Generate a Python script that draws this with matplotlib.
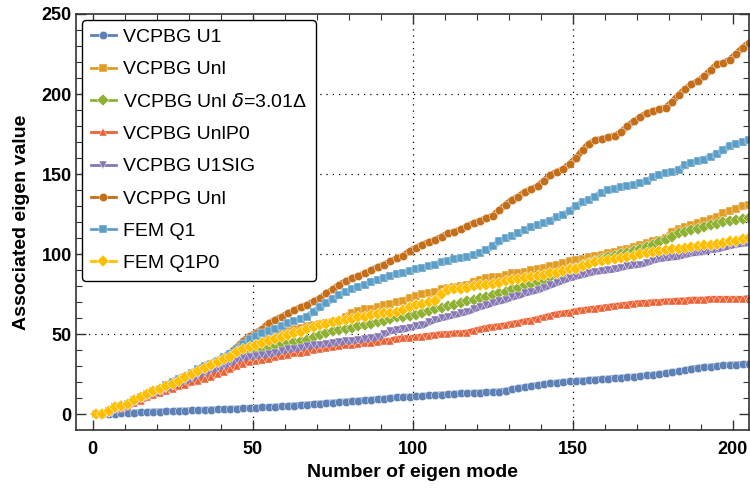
import matplotlib
matplotlib.use('Agg')
import matplotlib.pyplot as plt
from matplotlib.ticker import MultipleLocator

plt.rcParams['font.family'] = ['Liberation Sans', 'DejaVu Sans']

# eigen mode numbers (every second mode)
modes = list(range(1, 206, 2))

u1 = [0, 0.1, 0.3, 0.5, 0.7, 0.9, 1.1, 1.2, 1.4, 1.6,
      1.7, 1.9, 2.0, 2.2, 2.3, 2.5, 2.6, 2.8, 2.9, 3.1,
      3.2, 3.4, 3.5, 3.7, 3.9, 4.1, 4.3, 4.5, 4.7, 5.0,
      5.2, 5.5, 5.8, 6.1, 6.4, 6.7, 7.0, 7.3, 7.6, 7.9,
      8.2, 8.5, 8.8, 9.1, 9.4, 9.8, 10.2, 10.5, 10.8, 11.0,
      11.2, 11.5, 11.8, 12.0, 12.3, 12.5, 12.8, 13.0, 13.2, 13.4,
      13.6, 13.8, 14.0, 14.2, 14.8, 15.6, 16.3, 17.0, 17.6, 18.2,
      18.8, 19.3, 19.8, 20.2, 20.5, 20.8, 21.1, 21.4, 21.7, 22.0,
      22.3, 22.6, 22.9, 23.2, 23.5, 23.9, 24.3, 24.7, 25.1, 25.6,
      26.2, 26.8, 27.5, 28.5, 29.0, 29.4, 29.8, 30.2, 30.6, 30.9,
      31.1, 31.3, 31.5]

unl = [0, 0, 2, 4.5, 5, 6.5, 8.5, 10.5, 12.5, 14,
       15.5, 17.5, 19, 21, 23, 24.5, 26.5, 28.5, 30, 32,
       33.5, 35.5, 38, 40, 41.5, 44, 45.5, 47.5, 49.5, 51,
       52, 53, 54, 55, 56, 56.5, 57, 57.5, 58, 61,
       63.5, 64.5, 65.5, 66, 67, 68, 69, 70, 71, 72.5,
       74, 75, 75.5, 76.5, 78, 79, 79.5, 80, 81, 82.5,
       84, 85, 85.5, 86, 87, 88, 88.5, 89, 90, 91,
       91.5, 92.5, 93.5, 94.5, 95.5, 96.5, 97, 98, 99, 99.5,
       100.5, 101.5, 102.5, 103.5, 104.5, 105.5, 107, 108, 109, 110,
       114, 116, 117, 118, 119.5, 120.5, 122, 123.5, 125.5, 127,
       128.5, 130, 131]

unl_delta = [0, 0, 2, 4.5, 5, 6.5, 8.5, 10.5, 12, 14,
             15.5, 17, 19, 20.5, 22.5, 24, 26, 27.5, 29.5, 31,
             32.5, 34.5, 36, 37, 38, 39, 40.5, 42, 43, 44,
             44.5, 45, 46, 46.5, 48, 49.5, 51, 52, 52.5, 53.5,
             54, 55, 55.5, 56.5, 57.5, 58.5, 59.5, 60.5, 61, 61.5,
             62, 63, 64.5, 65.5, 66.5, 67.5, 68.5, 69.5, 70.5, 71.5,
             72.5, 73.5, 74.5, 75.5, 76.5, 78, 79, 80.5, 81.5, 82.5,
             84, 85.5, 87, 88.5, 90.5, 91.5, 93, 94.5, 96, 97,
             98, 99, 100, 101, 102, 103.5, 104.5, 106, 107.5, 109,
             111, 113, 114, 115, 116, 117, 118, 119, 120, 121,
             121.5, 122, 122.5]

unl_p0 = [0, 0, 1.5, 3.5, 4, 5, 7, 8.5, 10.5, 12,
          13, 14.5, 16, 17.5, 18.5, 20, 21, 22, 23.5, 25,
          26.5, 28, 30, 31.5, 32.5, 33, 34, 34.5, 35.5, 36.5,
          37, 38, 38.5, 39, 40, 41, 41.5, 42, 42.5, 43,
          43.5, 44, 44.5, 44.5, 45, 45.5, 46, 47, 47.5, 47.5,
          48, 48.5, 49, 49.5, 50, 50, 50.5, 50.5, 51, 52,
          53, 54, 54.5, 55, 55.5, 56.5, 57, 58, 58.5, 59.5,
          60.5, 61.5, 62.5, 63, 63.5, 64.5, 65, 65.5, 66, 66.5,
          67, 67.5, 68, 68.5, 69, 69.5, 69.5, 70, 70, 70.5,
          70.5, 71, 71, 71.5, 71.5, 71.5, 72, 72, 72, 72,
          72, 72, 72.5]

u1sig = [0, 0, 2, 4.5, 5, 6, 8, 10, 11.5, 13,
         14.5, 16, 17.5, 19.5, 21, 22.5, 24.5, 26, 27.5, 29,
         30.5, 32, 34, 35.5, 36, 36.5, 37, 37.5, 38.5, 39.5,
         40.5, 41, 41.5, 42.5, 43, 43.5, 44, 44.5, 45, 45.5,
         46, 46.5, 47, 47.5, 48, 50, 52, 52.5, 53, 54,
         55, 55.5, 57.5, 59, 60, 61, 62, 63, 64, 65.5,
         67, 68, 69.5, 70.5, 71.5, 73, 74, 75.5, 76.5, 77.5,
         79, 80.5, 82, 83.5, 85, 86, 87, 88, 89, 89.5,
         90, 90.5, 91.5, 92.5, 93, 93.5, 94.5, 96, 97, 97.5,
         98, 98.5, 99.5, 100.5, 101, 101.5, 102.5, 103, 104, 105,
         106, 106.5, 107]

vcppg_unl = [0, 0, 2, 4.5, 5, 6.5, 9, 10.5, 12.5, 14.5,
             16, 18, 20.5, 22.5, 24, 26, 28.5, 30.5, 32, 34,
             36, 38.5, 42, 46, 49, 51, 53.5, 57, 59, 61,
             63, 65, 67, 68.5, 70.5, 72.5, 75.5, 78, 81, 83,
             85, 86.5, 88, 90, 92, 93.5, 95.5, 97.5, 99, 102,
             104, 106, 107.5, 109, 111, 113, 114, 115.5, 117.5, 119.5,
             121, 122.5, 124, 127.5, 131, 134, 136, 139, 140.5, 142.5,
             146, 149.5, 151.5, 153, 156.5, 160, 165, 169, 171, 172,
             173, 174, 176, 180, 183, 185.5, 188, 189.5, 190.5, 191.5,
             195, 199.5, 203, 206, 208, 211, 215, 218.5, 219.5, 221.5,
             225, 229, 232]

fem_q1 = [0, 0, 2, 4.5, 5, 6.5, 9, 10.5, 12.5, 14.5,
          16, 18, 20, 22, 23.5, 25.5, 28, 30, 31.5, 33.5,
          35.5, 37.5, 40.5, 44, 47, 49, 50.5, 52, 53, 55,
          57, 58.5, 59.5, 61, 64, 67, 69.5, 72, 74.5, 76.5,
          78, 79.5, 81, 82.5, 84, 85, 86.5, 87.5, 88.5, 89.5,
          90.5, 91.5, 92.5, 93.5, 95, 96, 97, 97.5, 98.5, 99.5,
          101, 102.5, 105, 108, 110, 111.5, 113, 115, 117, 118,
          119.5, 121, 123, 124.5, 127, 130, 132.5, 134, 136, 138.5,
          140, 141, 142, 142.5, 143.5, 144.5, 145.5, 148, 149.5, 150.5,
          151.5, 152.5, 155.5, 157, 158, 159, 161, 162.5, 165, 167.5,
          169, 170, 171]

fem_q1p0 = [0, 0, 2, 4.5, 5, 6.5, 9, 10.5, 12.5, 14.5,
            15.5, 17.5, 19, 21, 23, 25, 27, 29, 31, 32.5,
            34.5, 36, 39, 41, 42, 43, 44.5, 46, 47, 48.5,
            49.5, 50.5, 51.5, 53, 54.5, 55.5, 56.5, 57.5, 58, 59,
            59.5, 60.5, 61, 62, 62.5, 63, 63.5, 64, 65, 67,
            68, 69, 70, 71, 75, 77.5, 78, 78.5, 79, 80,
            80.5, 81, 81.5, 82, 83, 84, 84.5, 85, 86, 86.5,
            87, 88, 88.5, 89.5, 90.5, 91, 92.5, 94, 95, 96,
            96.5, 97, 97.5, 98, 99, 100, 100.5, 101.5, 102, 102.5,
            103, 103.5, 104, 104.5, 105, 105.5, 106, 106.5, 107, 108,
            108.5, 109.5, 110]

labels = ['VCPBG U1', 'VCPBG Unl', 'VCPBG Unl $\\delta$=3.01\u0394', 'VCPBG UnlP0',
          'VCPBG U1SIG', 'VCPPG Unl', 'FEM Q1', 'FEM Q1P0']
colors = ['#5E81B5', '#E19C24', '#8FB032', '#EB6235',
          '#8778B3', '#C56E1A', '#5D9EC7', '#FFBF00']
markers = ['o', 's', 'D', '^', 'v', 'o', 's', 'D']
series = [u1, unl, unl_delta, unl_p0, u1sig, vcppg_unl, fem_q1, fem_q1p0]

fig = plt.figure(figsize=(7.5, 4.91), dpi=100)
ax = fig.add_axes([76/750, 61/491, 673/750, 416/491])

for y, lab, c, m in zip(series, labels, colors, markers):
    ax.plot(modes, y, color=c, marker=m, markersize=6, linewidth=4.5,
            markeredgecolor='white', markeredgewidth=0.3, label=lab)

# dotted grid lines
for gx in [50, 100, 150]:
    ax.axvline(gx, color='black', linestyle=(0, (1, 4)), linewidth=0.9, zorder=0)
for gy in [50, 100, 150, 200]:
    ax.axhline(gy, color='black', linestyle=(0, (1, 4)), linewidth=0.9, zorder=0)

ax.set_xlim(-5.2, 205)
ax.set_ylim(-9.8, 250)
ax.xaxis.set_major_locator(MultipleLocator(50))
ax.xaxis.set_minor_locator(MultipleLocator(10))
ax.yaxis.set_major_locator(MultipleLocator(50))
ax.yaxis.set_minor_locator(MultipleLocator(10))
ax.tick_params(which='both', direction='in', top=True, right=True, color='#333333')
ax.tick_params(which='major', length=7, width=1, labelsize=13)
ax.tick_params(which='minor', length=4, width=0.8)
ax.tick_params(axis='x', which='major', pad=8)
ax.tick_params(axis='y', which='major', pad=3)
for t in ax.get_xticklabels() + ax.get_yticklabels():
    t.set_fontweight('bold')
for s in ax.spines.values():
    s.set_color('#333333')
    s.set_linewidth(1.2)

ax.set_xlabel('Number of eigen mode', fontsize=14, fontweight='bold', labelpad=4)
ax.set_ylabel('Associated eigen value', fontsize=14, fontweight='bold', labelpad=8)

handles = [plt.Line2D([], [], color=c, marker=m, markersize=6, linewidth=2,
                      markeredgecolor='white', markeredgewidth=0.3)
           for c, m in zip(colors, markers)]
leg = ax.legend(handles, labels, loc='upper left', fontsize=14, fancybox=True,
                framealpha=1, edgecolor='black', borderaxespad=0.3,
                handlelength=1.3, handletextpad=0.35, labelspacing=0.75,
                borderpad=0.45)
leg.get_frame().set_linewidth(1.0)

plt.savefig('out.png', dpi=100)
